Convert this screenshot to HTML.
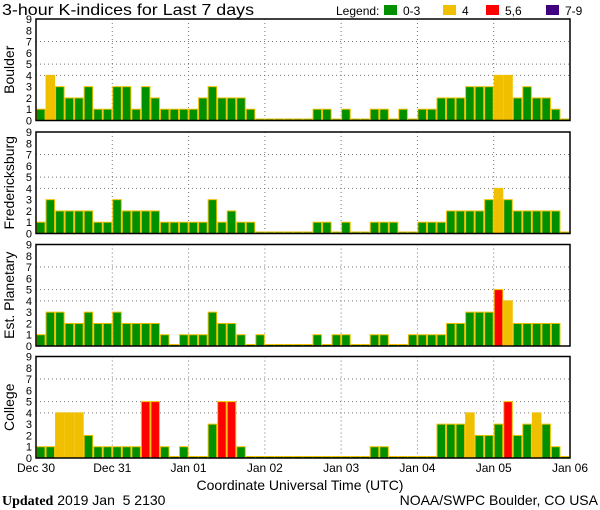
<!DOCTYPE html>
<html><head><meta charset="utf-8"><style>
body{margin:0;background:#fff}
svg{display:block;font-family:"Liberation Sans",sans-serif}
</style></head><body>
<svg id="c" width="600" height="510" viewBox="0 0 600 510">
<text x="2" y="15" font-size="16" textLength="252" lengthAdjust="spacingAndGlyphs">3-hour K-indices for Last 7 days</text>
<g font-size="12">
<text x="336" y="15">Legend:</text>
<rect x="384" y="5" width="13" height="10" fill="#009000"/><text x="403" y="15">0-3</text>
<rect x="443" y="5" width="13" height="10" fill="#f0c000"/><text x="462" y="15">4</text>
<rect x="486" y="5" width="13" height="10" fill="#ff0000"/><text x="505" y="15">5,6</text>
<rect x="546" y="5" width="13" height="10" fill="#400080"/><text x="565" y="15">7-9</text>
</g>
<text x="300" y="490" font-size="14" text-anchor="middle">Coordinate Universal Time (UTC)</text>
<text x="2" y="505" font-size="14" xml:space="preserve"><tspan font-family="Liberation Serif,serif" font-weight="bold">Updated</tspan> 2019 Jan  5 2130</text>
<text x="598" y="505" font-size="14" text-anchor="end">NOAA/SWPC Boulder, CO USA</text>
</svg>
<script>
const stations = ["Boulder","Fredericksburg","Est. Planetary","College"];
const boulder = [1,4,3,2,2,3,1,1,3,3,1,3,2,1,1,1,1,2,3,2,2,2,1,0,0,0,0,0,0,1,1,0,1,0,0,1,1,0,1,0,1,1,2,2,2,3,3,3,4,4,2,3,2,2,1,0];
const fredericksburg = [1,3,2,2,2,2,1,1,3,2,2,2,2,1,1,1,1,1,3,1,2,1,1,0,0,0,0,0,0,1,1,0,1,0,0,1,1,1,0,0,1,1,1,2,2,2,2,3,4,3,2,2,2,2,2,0];
const planetary = [1,3,3,2,2,3,2,2,3,2,2,2,2,1,0,1,1,1,3,2,2,1,0,1,0,0,0,0,0,1,0,1,1,0,0,1,1,0,0,1,1,1,1,2,2,3,3,3,5,4,2,2,2,2,2,null];
const college = [1,1,4,4,4,2,1,1,1,1,1,5,5,1,0,1,0,0,3,5,5,1,0,0,0,0,0,0,0,0,0,0,0,0,0,1,1,0,0,0,0,0,3,3,3,4,2,2,3,5,2,3,4,3,1,0];
const series = [boulder,fredericksburg,planetary,college];
const dayLabels = ["Dec 30","Dec 31","Jan 01","Jan 02","Jan 03","Jan 04","Jan 05","Jan 06"];
const yTicks = [0,1,2,3,4,5,6,7,8,9];
const gridLevels = [4,5,7];

const svg = document.getElementById('c');
const NS = 'http://www.w3.org/2000/svg';
const X0 = 36, X1 = 570, N = 56, H = 101.5;
const tops = [19,132,244.5,356.5];
const xs = i => X0 + (X1 - X0) * i / N;
function mk(tag, attrs, parent){const e=document.createElementNS(NS,tag);for(const k in attrs)e.setAttribute(k,attrs[k]);(parent||svg).appendChild(e);return e;}
function color(v){return v<=3?'#009000':v==4?'#f0c000':v<=6?'#ff0000':'#400080';}

stations.forEach((name, p) => {
  const top = tops[p], bot = top + H;
  const ys = v => bot - H * v / 9;
  const g = mk('g', {});
  
  
  gridLevels.forEach(l => {
    const ln = mk('line', {x1:X0,x2:X1,y1:ys(l),y2:ys(l),stroke:'#777','stroke-dasharray':'1,3'}, g);
    
    
  });
  for (let d = 1; d < 7; d++) {
    const ln = mk('line', {x1:xs(d*8),x2:xs(d*8),y1:top,y2:bot,stroke:'#777','stroke-dasharray':'1,3'}, g);
    
    
  }
  series[p].forEach((v, i) => {
    if (v === null) return;
    const y = Math.min(ys(v), bot - 1.5);
    const r = mk('rect', {x:xs(i)+0.5,y:y,width:(X1-X0)/N-1,height:bot-y,fill:color(v),stroke:'#f0c000','stroke-width':1}, g);
    
    
  });
  const fr = mk('rect', {x:X0,y:top,width:X1-X0,height:H,fill:'none',stroke:'#000','stroke-width':1.5}, g);
  
  
  yTicks.forEach(t => {
    const tx = mk('text', {x:32,y:ys(t)+4,'font-size':11,'text-anchor':'end'}, g);
    tx.textContent = t;
    
    
  });
  const lab = mk('text', {x:0,y:0,'font-size':14,'text-anchor':'middle',transform:`translate(14,${top+H/2}) rotate(-90)`}, g);
  lab.textContent = name;
  
  
});
dayLabels.forEach((d, i) => {
  const t = mk('text', {x:xs(i*8),y:472,'font-size':12,'text-anchor':'middle'});
  t.textContent = d;
  
  
});
</script>
</body></html>
